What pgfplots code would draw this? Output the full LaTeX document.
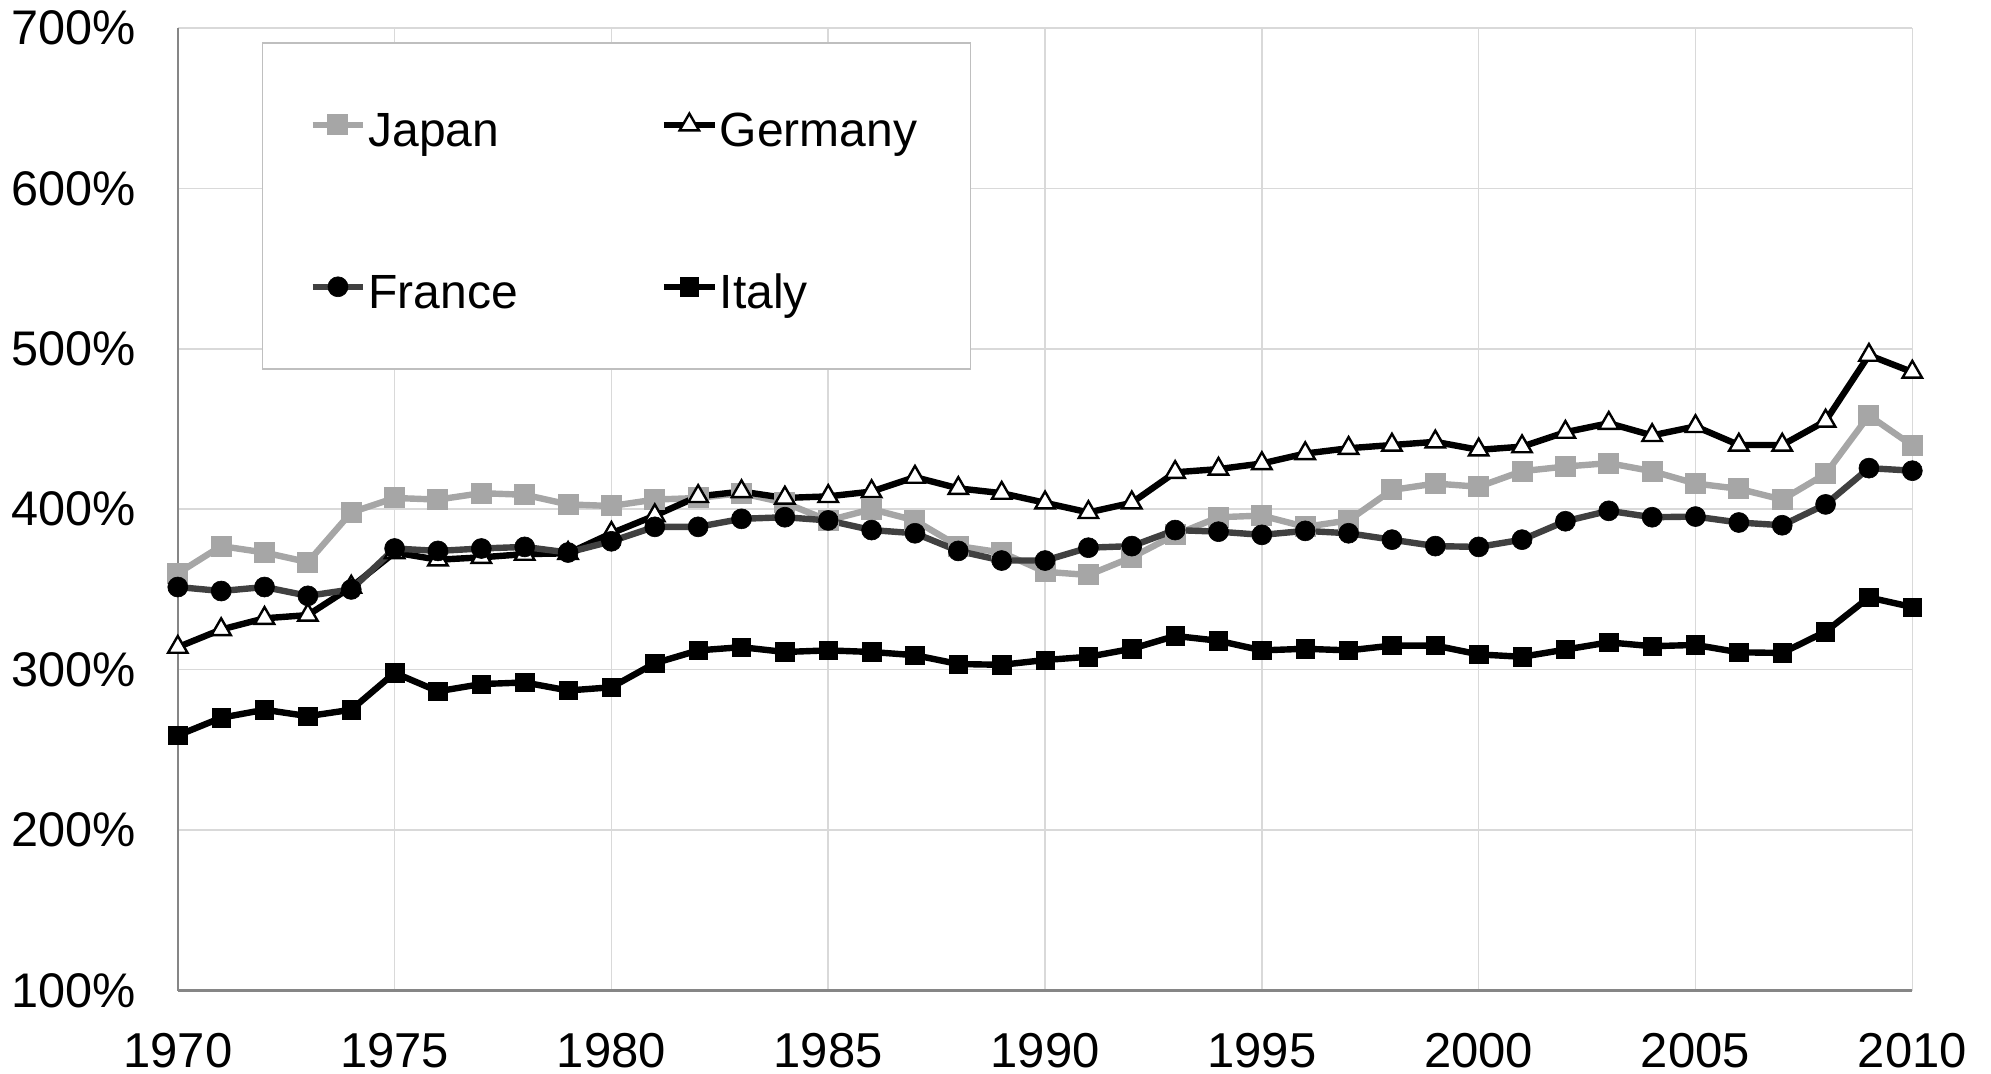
\documentclass[border=0pt]{standalone}
\usepackage{pgfplots}
\usepackage{pgfplotstable}
\pgfplotsset{compat=1.18}
\usepackage{fontspec}
\setmainfont{Liberation Sans}
\definecolor{japan}{HTML}{A6A6A6}
\definecolor{france}{HTML}{404040}
\definecolor{gridc}{HTML}{D9D9D9}
\definecolor{axisc}{HTML}{868686}
\definecolor{legc}{HTML}{BFBFBF}
\pgfplotstableread{
year japan germany france italy
1970 360 314 351.5 259
1971 377 325 349 270
1972 373 332 351.5 275
1973 367 334 346 271
1974 398 351.5 350 275
1975 407 373 375.5 298
1976 406 368.5 374 286.5
1977 410 370 375.5 291
1978 409 372 376.5 292
1979 403 372.5 373 287
1980 402 385 380 289
1981 406 396 389 304
1982 407 408 389 312
1983 410 411 394 314
1984 404 407 395 311
1985 393 408 393 312
1986 400 411 387 311
1987 393 420 385 309
1988 377 413 374 303.5
1989 373 410 368 303
1990 361 404 368 306
1991 359 398 376 308
1992 370 404 377 313
1993 384 423 387 321
1994 395 425 386 318
1995 396 428.5 384 312
1996 389 434.7 386.5 313
1997 393 438 385 312
1998 412 440 381 315
1999 416 442 377 315
2000 414 437 376.5 309.5
2001 423.7 439 381 308
2002 426.6 448 392.5 312.5
2003 428.7 453.6 399 317
2004 423.7 446 395 314.6
2005 416 451.6 395.4 315.4
2006 412.7 440 391.7 310.8
2007 406 440 390 310.4
2008 422 455 403 323.7
2009 458.4 496 425.6 345
2010 439.7 485.5 424 339
}\datatable
\begin{document}
\begin{tikzpicture}
\path[use as bounding box] (-88.9bp,-41.75bp) rectangle (906.6bp,495.25bp);
\begin{axis}[
  at={(0,0)}, anchor=south west,
  scale only axis,
  width=867.25bp, height=481.3bp,
  xmin=1970, xmax=2010, ymin=100, ymax=700,
  xtick={1970,1975,...,2010},
  ytick={100,200,...,700},
  major tick length=0pt,
  grid=major,
  grid style={draw=gridc, line width=0.8bp},
  axis x line*=bottom, axis y line*=left,
  x axis line style={draw=axisc, line width=1.5bp},
  y axis line style={draw=axisc, line width=0.8bp},
  /pgf/number format/assume math mode=true,
  xticklabel={\pgfmathprintnumber[1000 sep={}]{\tick}},
  yticklabel={\pgfmathprintnumber{\tick}\%},
  xticklabel style={font=\fontsize{24.5bp}{28bp}\selectfont, anchor=base, inner sep=0pt, yshift=-38.4bp},
  yticklabel style={font=\fontsize{24.3bp}{28bp}\selectfont, anchor=east, inner sep=0pt, xshift=-21bp},
  clip=false,
  legend columns=2,
  legend style={
    at={(0.0483,0.9854)}, anchor=north west,
    draw=legc, line width=0.8bp,
    inner xsep=23.5bp, inner ysep=30bp,
    font=\fontsize{24bp}{28bp}\selectfont,
    nodes={inner sep=0pt, text height=22bp, text depth=0bp},
    row sep=59bp,
    /tikz/every odd column/.append style={column sep=1bp},
    /tikz/every even column/.append style={column sep=71.4bp},
  },
  legend cell align=left,
  legend image code/.code={\draw[mark repeat=2,mark phase=2] plot coordinates {(0bp,0bp) (12.7bp,0bp) (25.4bp,0bp)};},
]
\addplot[color=japan, line width=3.2bp, mark=square*, mark size=5bp, mark options={fill=japan, draw=japan, line width=0.5bp}] table[x=year,y=japan] {\datatable};
\addlegendentry{Japan}
\addplot[color=black, line width=3.2bp, mark=triangle*, mark size=5.6bp, mark options={fill=white, draw=black, line width=1.2bp}] table[x=year,y=germany] {\datatable};
\addlegendentry{Germany\hspace*{3bp}}
\addplot[color=france, line width=3.2bp, mark=*, mark size=5bp, mark options={fill=black, draw=black, line width=0.3bp}] table[x=year,y=france] {\datatable};
\addlegendentry{France}
\addplot[color=black, line width=3.2bp, mark=square*, mark size=4.6bp, mark options={fill=black, draw=black, line width=0.3bp}] table[x=year,y=italy] {\datatable};
\addlegendentry{Italy}
\end{axis}
\end{tikzpicture}
\end{document}
